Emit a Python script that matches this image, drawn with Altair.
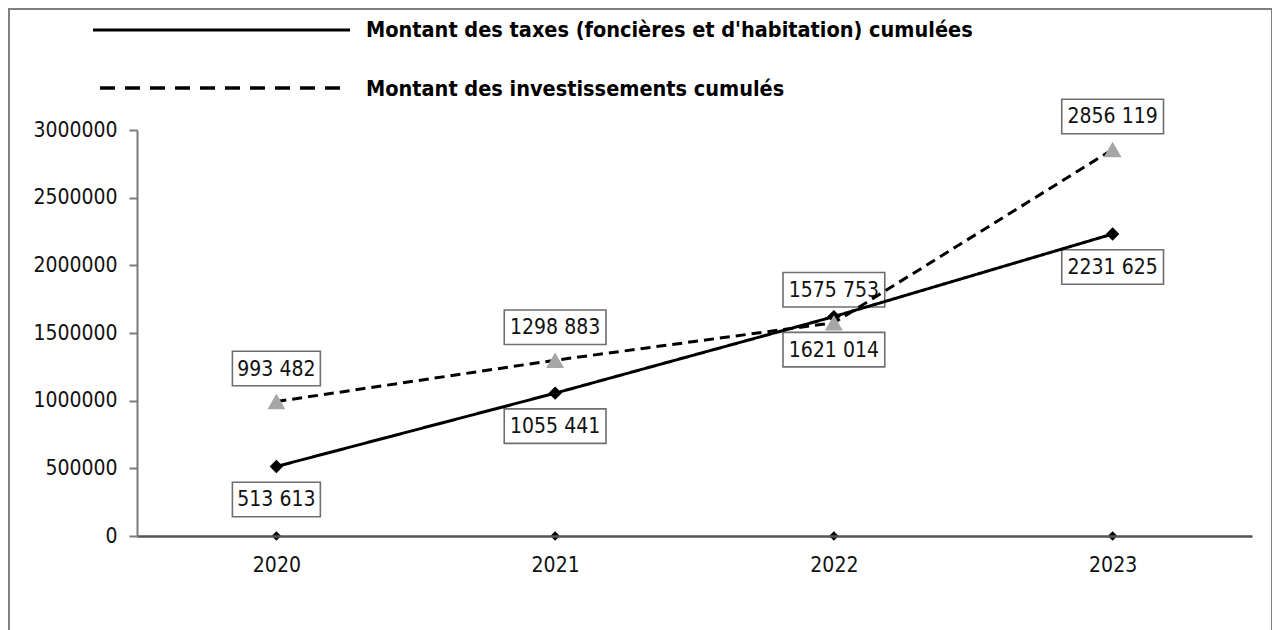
import altair as alt
import pandas as pd

years = ["2020", "2021", "2022", "2023"]
taxes = [513613, 1055441, 1621014, 2231625]
invest = [993482, 1298883, 1575753, 2856119]
tax_labels = ["513 613", "1055 441", "1621 014", "2231 625"]
inv_labels = ["993 482", "1298 883", "1575 753", "2856 119"]
series_names = ["Montant des taxes (foncières et d'habitation) cumulées",
                "Montant des investissements cumulés"]
y_ticks = [0, 500000, 1000000, 1500000, 2000000, 2500000, 3000000]

FONT = "DejaVu Sans Condensed"

rows = []
for y, v, l in zip(years, taxes, tax_labels):
    rows.append({"year": y, "value": v, "label": l, "series": "taxes"})
for y, v, l in zip(years, invest, inv_labels):
    rows.append({"year": y, "value": v, "label": l, "series": "invest"})
df = pd.DataFrame(rows)
axis_df = pd.DataFrame({"year": years})

xenc = alt.X("year:O", scale=alt.Scale(type="point", padding=0.5),
             axis=alt.Axis(title=None, labelAngle=0, ticks=False, labelPadding=18,
                           domainColor="#555555", domainWidth=2.5, zindex=1,
                           labelFont=FONT, labelFontSize=21, labelColor="#111111"))
yenc = alt.Y("value:Q", scale=alt.Scale(domain=[0, 3000000], nice=False),
             axis=alt.Axis(title=None, values=y_ticks, format="d", grid=False,
                           domainColor="#7a7a7a", domainWidth=2, tickColor="#7a7a7a",
                           tickWidth=2, tickSize=8, labelPadding=12, zindex=1,
                           labelFont=FONT, labelFontSize=21, labelColor="#111111"))

base = alt.Chart(df)

border = alt.Chart(pd.DataFrame({"a": [0]})).mark_rect(
    fillOpacity=0, stroke="#808080", strokeWidth=2
).encode(x=alt.value(-128), x2=alt.value(1135), y=alt.value(-121), y2=alt.value(560))

lines = base.mark_line(color="black", strokeWidth=3).encode(
    x=xenc, y=yenc,
    strokeDash=alt.StrokeDash("series:N", scale=alt.Scale(domain=["taxes", "invest"],
                                                          range=[[1, 0], [10, 6]]), legend=None),
)

markers = base.mark_point(filled=True, opacity=1).encode(
    x=xenc, y=yenc,
    shape=alt.Shape("series:N", scale=alt.Scale(domain=["taxes", "invest"],
                                               range=["diamond", "triangle-up"]), legend=None),
    color=alt.Color("series:N", scale=alt.Scale(domain=["taxes", "invest"],
                                               range=["black", "#a6a6a6"]), legend=None),
    size=alt.Size("series:N", scale=alt.Scale(domain=["taxes", "invest"],
                                             range=[180, 320]), legend=None),
)

axis_marks = alt.Chart(axis_df).mark_point(filled=True, color="black", shape="diamond",
                                           size=90, opacity=1).encode(
    x=xenc, y=alt.datum(0)
)

BOX_SHORT = "M-2.55,-1L2.55,-1L2.55,1L-2.55,1Z"
BOX_LONG = "M-2.95,-1L2.95,-1L2.95,1L-2.95,1Z"


def label_layers(series, off):
    sub = base.transform_filter(alt.datum.series == series)
    short = sub.transform_filter("length(datum.label) < 8").mark_point(
        filled=True, fill="white", stroke="#6e6e6e", strokeWidth=1.6,
        opacity=1, size=1190, yOffset=off, shape=BOX_SHORT).encode(x=xenc, y=yenc)
    long_ = sub.transform_filter("length(datum.label) >= 8").mark_point(
        filled=True, fill="white", stroke="#6e6e6e", strokeWidth=1.6,
        opacity=1, size=1190, yOffset=off, shape=BOX_LONG).encode(x=xenc, y=yenc)
    texts = sub.mark_text(font=FONT, fontSize=21, color="#111111", baseline="middle",
                          align="center", dy=off + 1).encode(
        x=xenc, y=yenc, text="label:N"
    )
    return [short, long_, texts]


leg = alt.Chart(pd.DataFrame({"a": [0]}))
leg_solid = leg.mark_rule(color="black", strokeWidth=3).encode(
    x=alt.value(-44), x2=alt.value(213), y=alt.value(-100))
leg_dash = leg.mark_rule(color="black", strokeWidth=3.5, strokeDash=[15, 10]).encode(
    x=alt.value(-37), x2=alt.value(213), y=alt.value(-42))
leg_t1 = leg.mark_text(font=FONT, fontSize=21.5, fontWeight="bold", align="left",
                       baseline="middle", color="black").encode(
    x=alt.value(229), y=alt.value(-99), text=alt.value(series_names[0]))
leg_t2 = leg.mark_text(font=FONT, fontSize=21.5, fontWeight="bold", align="left",
                       baseline="middle", color="black").encode(
    x=alt.value(229), y=alt.value(-40), text=alt.value(series_names[1]))

chart = alt.layer(
    border, *label_layers("taxes", 33), *label_layers("invest", -33),
    lines, markers, axis_marks,
    leg_solid, leg_dash, leg_t1, leg_t2
).properties(
    width=1115, height=406,
    padding={"left": 129, "top": 122, "right": 20, "bottom": 100},
    autosize=alt.AutoSizeParams(type="none"),
    background="white",
).configure_view(stroke=None)

chart.save("out.html", embed_options={"renderer": "svg", "actions": False})
